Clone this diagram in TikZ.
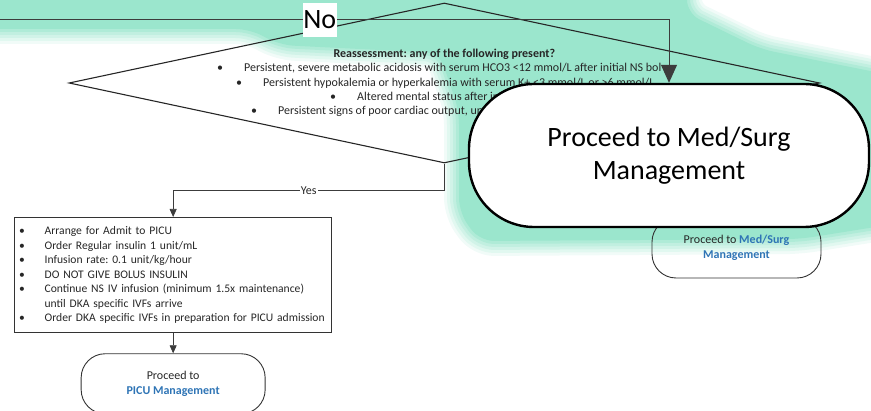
\documentclass[tikz,border=0pt]{standalone}
\usepackage{fontspec}
\setmainfont{Carlito}
\frenchspacing
\definecolor{glow}{RGB}{155,230,205}
\definecolor{linkblue}{RGB}{46,116,181}
\definecolor{linegray}{RGB}{60,60,60}
\usetikzlibrary{arrows.meta}
\usetikzlibrary{positioning}
\usetikzlibrary{shapes.geometric}
\newcommand{\blt}[1][27pt]{\makebox[#1][l]{\textbullet}}
\tikzset{
  decision/.style={diamond, draw=black!85, line width=1.1pt,
    minimum width=750.6pt, minimum height=160pt, inner sep=0},
  crit/.style={anchor=base west, inner sep=0,
    font=\fontsize{12}{14}\selectfont, text=black!85},
  actbox/.style={rectangle, draw=black!80, line width=1.3pt, anchor=north west,
    text width=308pt, minimum height=115pt, inner xsep=4.5pt, inner ysep=8pt,
    align=left, font=\fontsize{11.6}{14.5}\selectfont, text=black!85},
  terminal/.style={rectangle, rounded corners=24pt, draw=black!80, line width=0.9pt,
    minimum height=60pt, align=center, font=\fontsize{12}{15}\selectfont, text=black!85},
  bigterminal/.style={rectangle, rounded corners=65pt, draw=black, fill=white,
    line width=2.4pt, minimum width=400pt, minimum height=143pt, align=center,
    font=\fontsize{28}{33}\selectfont},
  arrow/.style={-{Triangle[width=7pt,length=8pt]}, draw=linegray, line width=0.7pt},
  bigarrow/.style={-{Triangle[width=16pt,length=18pt]}, draw=linegray, line width=1pt},
  nolabel/.style={fill=white, inner sep=0, minimum width=34pt, minimum height=34pt,
    font=\fontsize{28}{33}\selectfont},
  yeslabel/.style={fill=white, inner sep=1pt, font=\fontsize{12}{14}\selectfont, text=black!85}
}

\begin{document}
\begin{tikzpicture}[x=1pt,y=-1pt]
  \useasboundingbox (0,0) rectangle (871,411);

  % highlight
  \foreach \w/\c in {32/14,26/30,20/46,14/62,8/80,2/100}{
    \path[fill=glow!\c, draw=glow!\c, line width=\w pt, line join=round, rounded corners=14pt]
      (-40,-40) -- (686,-40) -- (686,14) -- (760,50) -- (900,78) -- (900,222)
      -- (800,238) -- (480,240) -- (460,212) -- (460,110) -- (440,52)
      -- (280,44) -- (250,28) -- (-40,28) -- cycle;
  }

  \node[decision] (reass) at (444.3,83) {};
  \node[crit, anchor=base, font=\fontsize{12}{14}\selectfont\bfseries] (reasstitle) at (444.3,58)
    {Reassessment: any of the following present?};
  \node[crit] (crit1) at (217,72)
    {\blt Persistent, severe metabolic acidosis with serum HCO3 <12 mmol/L after initial NS bol};
  \node[crit] (crit2) at (236,86.5)
    {\blt Persistent hypokalemia or hyperkalemia with serum K+ <3 mmol/L or >6 mmol/L};
  \node[crit] (crit3) at (330,101)
    {\blt Altered mental status after in};
  \node[crit] (crit4) at (251,115)
    {\blt Persistent signs of poor cardiac output, un};

  \node[actbox] (admit) at (14,217) {%
    \blt[25.5pt]Arrange for Admit to PICU\\
    \blt[25.5pt]Order Regular insulin 1 unit/mL\\
    \blt[25.5pt]Infusion rate: 0.1 unit/kg/hour\\
    \blt[25.5pt]DO NOT GIVE BOLUS INSULIN\\
    \blt[25.5pt]Continue NS IV infusion (minimum 1.5x maintenance)\\
    \hspace*{25.5pt}until DKA specific IVFs arrive\\
    \blt[25.5pt]Order DKA specific IVFs in preparation for PICU admission};
  \node[terminal, minimum width=184pt, below=20pt of admit] (picu)
    {Proceed to\\\textcolor{linkblue}{\textbf{PICU Management}}};

  \draw[arrow] (reass.south) -- ++(0,27) -| node[pos=0.25, yeslabel] {Yes} (admit.north);
  \draw[arrow] (admit) -- (picu);

  \node[terminal, minimum width=169pt] (medsurg) at (736.5,248)
    {Proceed to \textcolor{linkblue}{\textbf{Med/Surg}}\\\textcolor{linkblue}{\textbf{Management}}};

  \node[bigterminal] (bigmed) at (669,155.5) {Proceed to Med/Surg\\Management};

  \coordinate (noin) at (0,20);
  \draw[bigarrow] (noin) -| node[pos=0.239, nolabel] {No} (bigmed.north);
\end{tikzpicture}
\end{document}
